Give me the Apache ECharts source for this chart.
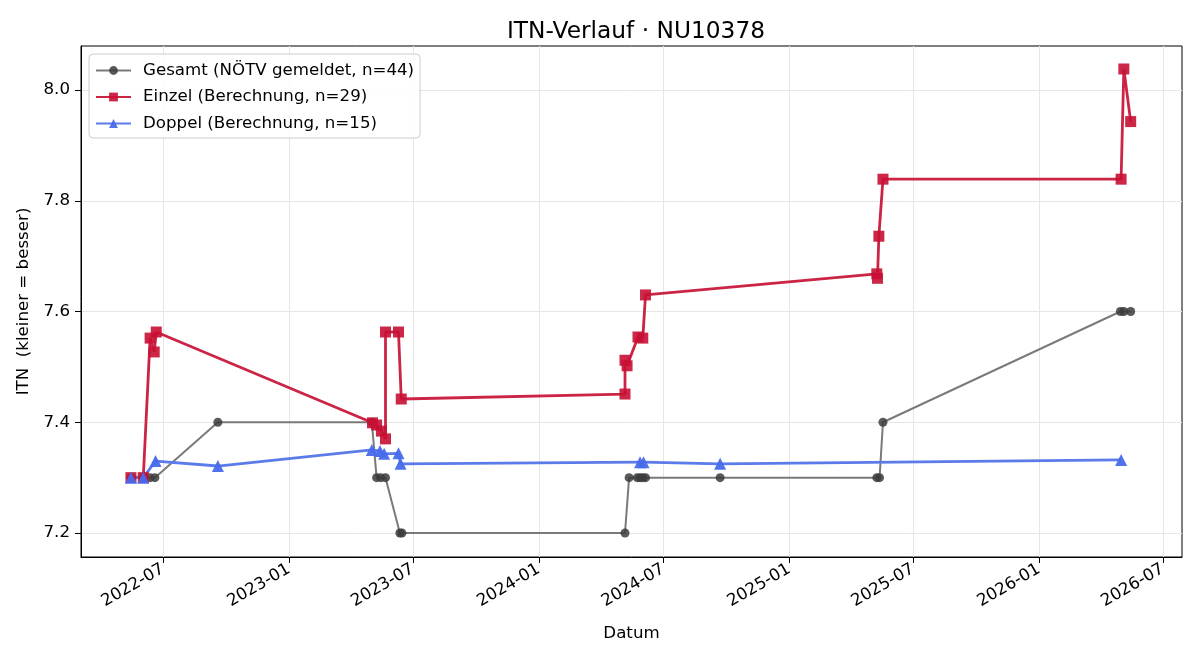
<!DOCTYPE html>
<html>
<head>
<meta charset="utf-8">
<script src="https://cdn.jsdelivr.net/npm/echarts@6/dist/echarts.min.js"></script>
<style>
  html, body { margin: 0; padding: 0; background: #fff; }
  #chart { width: 1200px; height: 660px; }
</style>
</head>
<body>
<div id="chart"></div>
<script>
// Gesamt (NÖTV gemeldet)
var gesamtDates = ['2022-05-15', '2022-06-02', '2022-06-12', '2022-06-19', '2022-09-19',
    '2023-05-02', '2023-05-09', '2023-05-15', '2023-05-22', '2023-06-12', '2023-06-15',
    '2024-05-06', '2024-05-12', '2024-05-24', '2024-05-28', '2024-06-01', '2024-06-05', '2024-09-22',
    '2025-05-09', '2025-05-13', '2025-05-18',
    '2026-04-30', '2026-05-05', '2026-05-15'];
var gesamtValues = [7.3, 7.3, 7.3, 7.3, 7.4,
    7.4, 7.3, 7.3, 7.3, 7.2, 7.2,
    7.2, 7.3, 7.3, 7.3, 7.3, 7.3, 7.3,
    7.3, 7.3, 7.4,
    7.6, 7.6, 7.6];

// Einzel (Berechnung)
var einzelDates = ['2022-05-15', '2022-06-02', '2022-06-12', '2022-06-18', '2022-06-21',
    '2023-05-03', '2023-05-09', '2023-05-16', '2023-05-22', '2023-05-22', '2023-06-10', '2023-06-14',
    '2024-05-06', '2024-05-06', '2024-05-09', '2024-05-25', '2024-06-01', '2024-06-05',
    '2025-05-09', '2025-05-10', '2025-05-12', '2025-05-18',
    '2026-05-01', '2026-05-05', '2026-05-15'];
var einzelValues = [7.3, 7.3, 7.552, 7.527, 7.563,
    7.399, 7.395, 7.384, 7.370, 7.563, 7.563, 7.442,
    7.451, 7.512, 7.502, 7.554, 7.552, 7.630,
    7.668, 7.660, 7.736, 7.839,
    7.839, 8.038, 7.943];

// Doppel (Berechnung)
var doppelDates = ['2022-05-15', '2022-06-02', '2022-06-20', '2022-09-19',
    '2023-05-02', '2023-05-14', '2023-05-20', '2023-06-10', '2023-06-13',
    '2024-05-28', '2024-06-02', '2024-09-22',
    '2026-05-01'];
var doppelValues = [7.3, 7.3, 7.330, 7.321,
    7.350, 7.348, 7.343, 7.344, 7.325,
    7.328, 7.328, 7.325,
    7.332];

var xTicks = ['2022-07-01', '2023-01-01', '2023-07-01', '2024-01-01', '2024-07-01',
    '2025-01-01', '2025-07-01', '2026-01-01', '2026-07-01'];
var yTicks = [7.2, 7.4, 7.6, 7.8, 8.0];

function ts(d) {
    return new Date(d + 'T00:00:00').getTime();
}
function pairs(dates, values) {
    return dates.map(function (d, i) { return [ts(d), values[i]]; });
}

var xTickValues = xTicks.map(ts);
var font = 'DejaVu Sans';
var fs = 16.67;

var dom = document.getElementById('chart');
var myChart = echarts.init(dom, null, { renderer: 'canvas' });

var option = {
    animation: false,
    backgroundColor: '#ffffff',
    textStyle: { fontFamily: font },
    title: {
        text: 'ITN-Verlauf · NU10378',
        left: 631,
        top: 15,
        textAlign: 'center',
        textStyle: { fontFamily: font, fontSize: 23.3, fontWeight: 'normal', color: '#000' }
    },
    legend: {
        orient: 'vertical',
        left: 89,
        top: 54,
        padding: [8, 6, 6, 6],
        itemWidth: 35,
        itemHeight: 11,
        itemGap: 9.5,
        backgroundColor: 'rgba(255,255,255,0.85)',
        borderColor: '#cccccc',
        borderWidth: 1,
        borderRadius: 4,
        textStyle: { fontFamily: font, fontSize: fs, color: '#000', padding: [0, 0, 0, 7] },
        data: ['Gesamt (NÖTV gemeldet, n=44)', 'Einzel (Berechnung, n=29)', 'Doppel (Berechnung, n=15)']
    },
    grid: {
        left: 81,
        right: 18,
        top: 46,
        bottom: 103,
        show: true,
        borderColor: '#000',
        borderWidth: 1,
        backgroundColor: 'transparent'
    },
    xAxis: {
        type: 'value',
        min: ts('2022-03-03'),
        max: ts('2026-07-29'),
        name: 'Datum',
        nameLocation: 'middle',
        nameGap: 68,
        nameTextStyle: { fontFamily: font, fontSize: fs, color: '#000' },
        axisLine: { show: true, onZero: false, lineStyle: { color: '#000', width: 1 } },
        axisTick: { show: true, length: 6, lineStyle: { color: '#000' }, customValues: xTickValues },
        axisLabel: {
            customValues: xTickValues,
            rotate: 30,
            margin: 11,
            fontFamily: font,
            fontSize: fs,
            color: '#000',
            formatter: function (v) {
                var d = new Date(v);
                var m = d.getMonth() + 1;
                return d.getFullYear() + '-' + (m < 10 ? '0' + m : m);
            }
        },
        splitLine: { show: true, lineStyle: { color: '#e6e6e6', width: 1 } }
    },
    yAxis: {
        type: 'value',
        min: 7.1567,
        max: 8.0795,
        name: 'ITN  (kleiner = besser)',
        nameLocation: 'middle',
        nameGap: 44,
        nameTextStyle: { fontFamily: font, fontSize: fs, color: '#000' },
        axisLine: { show: true, onZero: false, lineStyle: { color: '#000', width: 1 } },
        axisTick: { show: true, length: 6, lineStyle: { color: '#000' }, customValues: yTicks },
        axisLabel: {
            customValues: yTicks,
            margin: 11,
            fontFamily: font,
            fontSize: fs,
            color: '#000',
            formatter: function (v) { return v.toFixed(1); }
        },
        splitLine: { show: true, lineStyle: { color: '#e6e6e6', width: 1 } }
    },
    series: [
        {
            name: 'Gesamt (NÖTV gemeldet, n=44)',
            type: 'line',
            data: pairs(gesamtDates, gesamtValues),
            symbol: 'circle',
            symbolSize: 9,
            showAllSymbol: true,
            lineStyle: { color: '#7a7a7a', width: 2 },
            itemStyle: { color: 'rgba(60,60,60,0.85)', borderWidth: 0 }
        },
        {
            name: 'Einzel (Berechnung, n=29)',
            type: 'line',
            data: pairs(einzelDates, einzelValues),
            symbol: 'rect',
            symbolSize: 11,
            showAllSymbol: true,
            lineStyle: { color: '#cb2444', width: 2.8 },
            itemStyle: { color: 'rgba(200,16,52,0.9)', borderWidth: 0 }
        },
        {
            name: 'Doppel (Berechnung, n=15)',
            type: 'line',
            data: pairs(doppelDates, doppelValues),
            symbol: 'triangle',
            symbolSize: 12,
            showAllSymbol: true,
            lineStyle: { color: '#5b7bea', width: 2.8 },
            itemStyle: { color: 'rgba(72,106,236,0.95)', borderWidth: 0 }
        }
    ]
};

if (option && typeof option === 'object') {
    myChart.setOption(option, true);
}
</script>
</body>
</html>
